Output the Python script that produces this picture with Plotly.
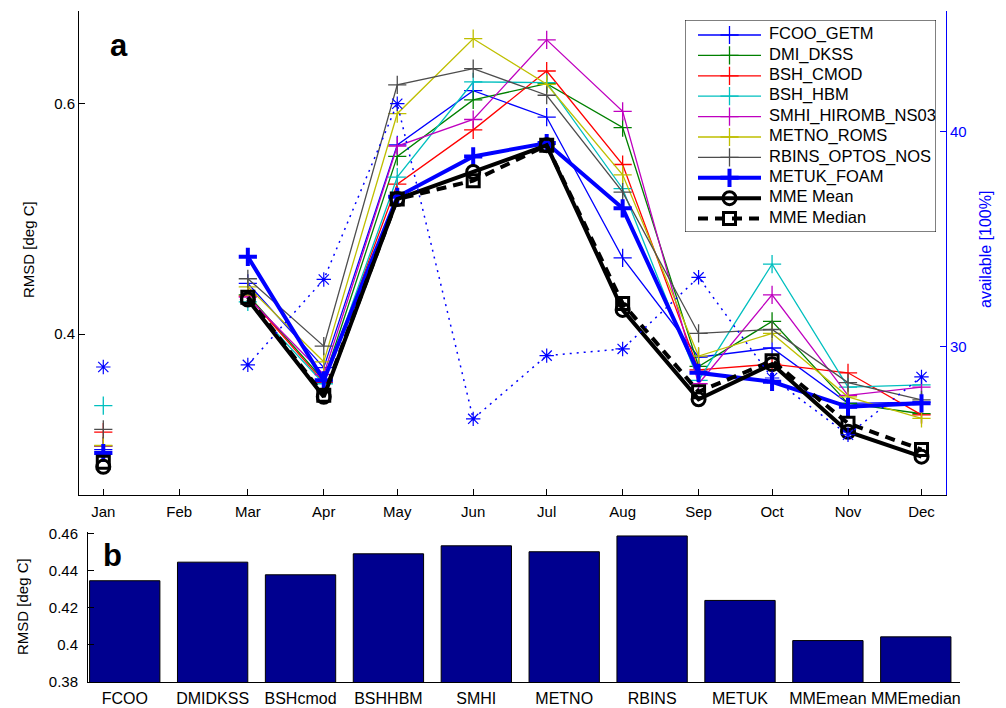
import plotly.graph_objects as go

# ---- monthly RMSD per model (deg C); February has no data ----
months = ["Jan", "Feb", "Mar", "Apr", "May", "Jun", "Jul", "Aug", "Sep", "Oct", "Nov", "Dec"]
month_dates = ["2013-%02d-01" % m for m in range(1, 13)]

fcoo_getm = [0.300, None, 0.444, 0.371, 0.564, 0.611, 0.588, 0.466, 0.380, 0.388, 0.340, 0.341]
dmi_dkss = [0.303, None, 0.434, 0.360, 0.554, 0.603, 0.617, 0.579, 0.372, 0.411, 0.340, 0.331]
bsh_cmod = [0.315, None, 0.433, 0.358, 0.530, 0.577, 0.628, 0.547, 0.369, 0.374, 0.3665, 0.330]
bsh_hbm = [0.338, None, 0.428, 0.357, 0.536, 0.6185, 0.618, 0.526, 0.360, 0.4606, 0.354, 0.356]
smhi_hiromb = [0.303, None, 0.432, 0.365, 0.563, 0.586, 0.655, 0.593, 0.357, 0.434, 0.347, 0.354]
metno_roms = [0.3035, None, 0.441, 0.376, 0.591, 0.656, 0.6165, 0.538, 0.381, 0.4006, 0.3457, 0.327]
rbins_optos = [0.3175, None, 0.448, 0.3896, 0.616, 0.630, 0.607, 0.523, 0.4006, 0.404, 0.358, 0.343]
metuk_foam = [0.297, None, 0.467, 0.360, 0.519, 0.554, 0.5656, 0.509, 0.3665, 0.3587, 0.337, 0.340]
mme_mean = [0.285, None, 0.430, 0.3457, 0.517, 0.5405, 0.5636, 0.421, 0.3435, 0.374, 0.3154, 0.2938]
mme_median = [0.289, None, 0.432, 0.347, 0.517, 0.533, 0.5636, 0.4266, 0.350, 0.3769, 0.3227, 0.300]

# data availability (right axis)
availability = [29.05, None, 29.15, 33.12, 41.29, 26.64, 29.58, 29.89, 33.22, 28.54, 25.90, 28.59]

# ---- overall RMSD per model ----
bar_labels = ["FCOO", "DMIDKSS", "BSHcmod", "BSHHBM", "SMHI", "METNO", "RBINS", "METUK", "MMEmean", "MMEmedian"]
bar_rmsd = [0.4345, 0.4445, 0.4377, 0.4490, 0.4533, 0.4501, 0.4586, 0.4239, 0.4023, 0.4043]

FONT = "Liberation Sans, Arial, Helvetica, sans-serif"
W, H = 1006, 708

# (name, values, colour, line width, marker symbol, marker size, marker line width, dash)
series = [
    ("FCOO_GETM", fcoo_getm, "#0000FF", 1.3, "cross-thin-open", 13, 1.3, "solid"),
    ("DMI_DKSS", dmi_dkss, "#008000", 1.3, "cross-thin-open", 13, 1.3, "solid"),
    ("BSH_CMOD", bsh_cmod, "#FF0000", 1.3, "cross-thin-open", 13, 1.3, "solid"),
    ("BSH_HBM", bsh_hbm, "#00BFBF", 1.3, "cross-thin-open", 13, 1.3, "solid"),
    ("SMHI_HIROMB_NS03", smhi_hiromb, "#BF00BF", 1.3, "cross-thin-open", 13, 1.3, "solid"),
    ("METNO_ROMS", metno_roms, "#BFBF00", 1.3, "cross-thin-open", 13, 1.3, "solid"),
    ("RBINS_OPTOS_NOS", rbins_optos, "#4D4D4D", 1.3, "cross-thin-open", 13, 1.3, "solid"),
    ("METUK_FOAM", metuk_foam, "#0000FF", 4, "cross-thin-open", 13, 4, "solid"),
    ("MME Mean", mme_mean, "black", 4, "circle-open", 13, 3, "solid"),
    ("MME Median", mme_median, "black", 4, "square-open", 12, 3, "10px,7px"),
]

fig = go.Figure()

for name, vals, col, lw, sym, ms, mlw, dash in series:
    fig.add_trace(go.Scatter(
        x=month_dates, y=vals, name=name, mode="lines+markers", showlegend=False,
        line=dict(color=col, width=lw, dash=dash),
        marker=dict(symbol=sym, size=ms, color=col, line=dict(color=col, width=mlw)),
        xaxis="x", yaxis="y",
    ))

# availability on the right axis
fig.add_trace(go.Scatter(
    x=month_dates, y=availability, name="available", mode="lines+markers", showlegend=False,
    line=dict(color="#0000FF", width=1.5, dash="2px,5px"),
    marker=dict(symbol="asterisk-open", size=12, color="#0000FF", line=dict(color="#0000FF", width=1.2)),
    xaxis="x", yaxis="y2",
))

# bottom panel bars
fig.add_trace(go.Bar(
    x=bar_labels, y=bar_rmsd, width=0.8, showlegend=False,
    marker=dict(color="#00008F", line=dict(color="black", width=1)),
    xaxis="x2", yaxis="y3",
))

# ---- legend box, drawn on its own pixel-unit axes ----
LEG_L, LEG_R, LEG_T, LEG_B = 685, 936, 20, 232
leg_w, leg_h = LEG_R - LEG_L, LEG_B - LEG_T
row0, row_step = 15, 20.4
fig.add_trace(go.Scatter(
    x=[0, leg_w, leg_w, 0, 0], y=[0, 0, leg_h, leg_h, 0], mode="lines", fill="toself",
    fillcolor="white", line=dict(color="black", width=1), showlegend=False, hoverinfo="skip",
    xaxis="x3", yaxis="y4",
))
for i, (name, vals, col, lw, sym, ms, mlw, dash) in enumerate(series):
    yr = row0 + row_step * i
    fig.add_trace(go.Scatter(
        x=[13, 44.5, 76], y=[yr, yr, yr], mode="lines+markers", showlegend=False, hoverinfo="skip",
        line=dict(color=col, width=lw, dash=dash),
        marker=dict(symbol=sym, size=ms, color=col, opacity=[0, 1, 0], line=dict(color=col, width=mlw)),
        xaxis="x3", yaxis="y4",
    ))
    fig.add_trace(go.Scatter(
        x=[84], y=[yr], mode="text", text=[name], textposition="middle right", showlegend=False,
        hoverinfo="skip", textfont=dict(family=FONT, size=16.5, color="black"),
        xaxis="x3", yaxis="y4",
    ))

axis_common = dict(showgrid=False, zeroline=False, showline=True, linecolor="black", linewidth=1,
                   ticks="inside", ticklen=6, tickcolor="black",
                   tickfont=dict(family=FONT, size=15, color="black"))

fig.update_layout(
    template="none",
    width=W, height=H,
    margin=dict(l=0, r=0, t=0, b=0),
    paper_bgcolor="white", plot_bgcolor="rgba(0,0,0,0)",
    font=dict(family=FONT, size=15, color="black"),
    showlegend=False,
    xaxis=dict(axis_common, domain=[79 / W, 946 / W], anchor="y", type="date",
               range=["2012-12-22 02:00", "2013-12-11 00:00"],
               tickmode="array", tickvals=month_dates, ticktext=months, ticklabelstandoff=3),
    yaxis=dict(axis_common, domain=[1 - 495 / H, 1 - 11 / H], anchor="x", range=[0.2606, 0.68],
               tickmode="array", tickvals=[0.4, 0.6], ticktext=["0.4", "0.6"]),
    yaxis2=dict(axis_common, overlaying="y", side="right", anchor="x", range=[23.1, 45.6],
                tickmode="array", tickvals=[30, 40], ticktext=["30", "40"],
                linecolor="#0000FF", tickcolor="#0000FF",
                tickfont=dict(family=FONT, size=15, color="#0000FF")),
    xaxis2=dict(axis_common, domain=[88 / W, 960 / W], anchor="y3", type="category",
                range=[-0.418, 9.503], ticks="", ticklabelstandoff=2,
                tickfont=dict(family=FONT, size=16, color="black")),
    yaxis3=dict(axis_common, domain=[1 - 682 / H, 1 - 531.5 / H], anchor="x2", range=[0.38, 0.461],
                tickmode="array", tickvals=[0.38, 0.40, 0.42, 0.44, 0.46],
                ticktext=["0.38", "0.4", "0.42", "0.44", "0.46"], ticklabelstandoff=6),
    xaxis3=dict(domain=[LEG_L / W, LEG_R / W], anchor="y4", range=[0, leg_w], visible=False,
                fixedrange=True),
    yaxis4=dict(domain=[1 - LEG_B / H, 1 - LEG_T / H], anchor="x3", range=[leg_h, 0], visible=False,
                fixedrange=True),
)

ann = dict(xref="paper", yref="paper", showarrow=False, xanchor="center", yanchor="middle")
fig.add_annotation(text="<b>a</b>", x=119 / W, y=1 - 45 / H, font=dict(family=FONT, size=31, color="black"), **ann)
fig.add_annotation(text="<b>b</b>", x=112 / W, y=1 - 555 / H, font=dict(family=FONT, size=31, color="black"), **ann)
fig.add_annotation(text="RMSD [deg C]", x=28 / W, y=1 - 250 / H, textangle=-90,
                   font=dict(family=FONT, size=15, color="black"), **ann)
fig.add_annotation(text="RMSD [deg C]", x=22 / W, y=1 - 607 / H, textangle=-90,
                   font=dict(family=FONT, size=15, color="black"), **ann)
fig.add_annotation(text="available [100%]", x=985 / W, y=1 - 250 / H, textangle=-90,
                   font=dict(family=FONT, size=16, color="#0000FF"), **ann)

fig.write_html("out.html")
